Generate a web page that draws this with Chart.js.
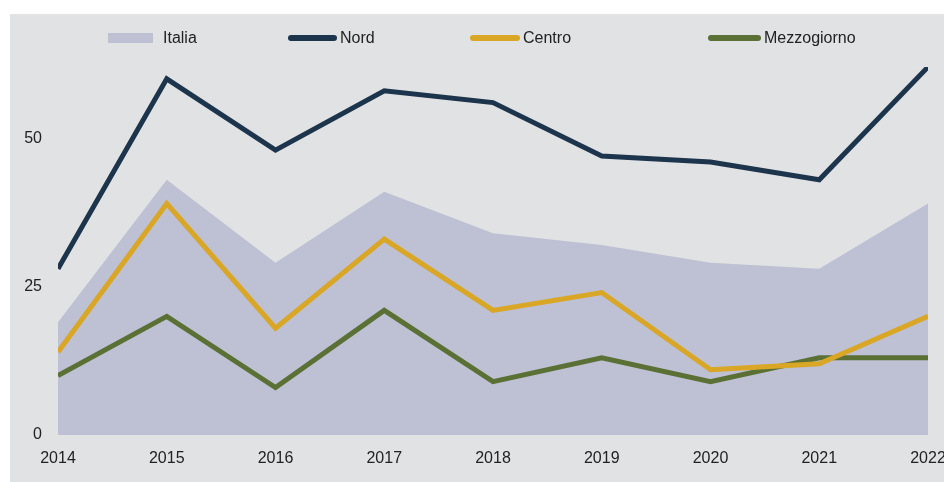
<!DOCTYPE html>
<html>
<head>
<meta charset="utf-8">
<script src="https://cdn.jsdelivr.net/npm/chart.js@4"></script>
<style>
  html, body { margin: 0; padding: 0; background: #fff; }
  #wrap { position: absolute; left: 10px; top: 14px; width: 934px; height: 468px; background: #e1e2e4; }
</style>
</head>
<body>
<div id="wrap"><canvas id="chart"></canvas></div>
<script>
const years = ['2014', '2015', '2016', '2017', '2018', '2019', '2020', '2021', '2022'];
const italia = [19, 43, 29, 41, 34, 32, 29, 28, 39];
const nord = [28, 60, 48, 58, 56, 47, 46, 43, 62];
const centro = [14, 39, 18, 33, 21, 24, 11, 12, 20];
const mezzogiorno = [10, 20, 8, 21, 9, 13, 9, 13, 13];

const FONT = '"Liberation Sans", Arial, sans-serif';

// legenda disegnata a mano, le voci sono molto distanziate
const legendItems = [
    { label: 'Italia', x: 98, kind: 'box', w: 45, gap: 10 },
    { label: 'Nord', x: 278, kind: 'line', w: 49, gap: 3 },
    { label: 'Centro', x: 460, kind: 'line', w: 50, gap: 3 },
    { label: 'Mezzogiorno', x: 698, kind: 'line', w: 53, gap: 3 }
];

const customLegend = {
    id: 'customLegend',
    afterDraw(chart) {
        const c = chart.ctx;
        const y = 24;
        c.save();
        legendItems.forEach((item, i) => {
            const ds = chart.data.datasets[i];
            if (item.kind === 'box') {
                c.fillStyle = ds.backgroundColor;
                c.fillRect(item.x, y - 5, item.w, 10);
            } else {
                c.strokeStyle = ds.borderColor;
                c.lineWidth = 6;
                c.lineCap = 'round';
                c.beginPath();
                c.moveTo(item.x + 3, y);
                c.lineTo(item.x + item.w - 3, y);
                c.stroke();
            }
            c.fillStyle = '#222';
            c.font = '16px ' + FONT;
            c.textBaseline = 'middle';
            c.fillText(item.label, item.x + item.w + item.gap, y + 1);
        });
        c.restore();
    }
};

const lineDs = (label, data, color) => ({
    label, data,
    borderColor: color,
    borderWidth: 5,
    pointRadius: 0,
    fill: false,
    tension: 0,
    clip: 0,
    order: 1
});

new Chart(document.getElementById('chart'), {
    type: 'line',
    data: {
        labels: years,
        datasets: [
            {
                label: 'Italia', data: italia,
                backgroundColor: '#bec1d3',
                borderWidth: 0,
                pointRadius: 0,
                fill: 'origin',
                tension: 0,
                clip: 0,
                order: 10
            },
            lineDs('Nord', nord, '#1c344c'),
            lineDs('Centro', centro, '#d9a625'),
            lineDs('Mezzogiorno', mezzogiorno, '#5a7034')
        ]
    },
    options: {
        responsive: true,
        maintainAspectRatio: false,
        animation: false,
        layout: { autoPadding: false, padding: { top: 53, right: 16, left: 0, bottom: 0 } },
        plugins: {
            legend: { display: false },
            tooltip: { enabled: false }
        },
        scales: {
            x: {
                offset: false,
                grid: { display: false, drawTicks: false },
                border: { display: false },
                ticks: { color: '#222', font: { family: FONT, size: 16 }, padding: 14, maxRotation: 0, autoSkip: false },
                afterFit: s => { s.height = 47; s.paddingLeft = 0; s.paddingRight = 0; }
            },
            y: {
                min: 0,
                max: 62,
                grid: { display: false, drawTicks: false },
                border: { display: false },
                ticks: { stepSize: 25, includeBounds: false, color: '#222', font: { family: FONT, size: 16 }, padding: 16 },
                afterFit: s => { s.width = 48; }
            }
        }
    },
    plugins: [customLegend]
});
</script>
</body>
</html>
